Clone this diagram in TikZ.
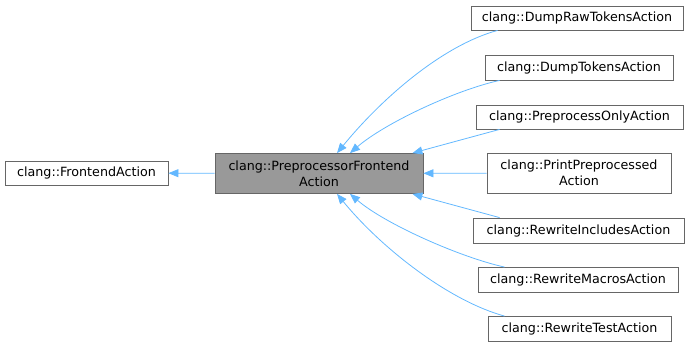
\documentclass[tikz,border=0pt]{standalone}
\usepackage{fontspec}
\setmainfont{DejaVu Sans}
\usepackage{tikz}
\usetikzlibrary{ arrows.meta, % For the filled inheritance tips
                 positioning,
               }
\definecolor{edgeblue}{HTML}{63B8FF}
\definecolor{boxline}{HTML}{666666}
\definecolor{basefill}{HTML}{999999}
\tikzstyle{edge} = [draw=edgeblue, line width=0.8pt, -{Triangle[length=10pt, width=8pt]}]
\tikzstyle{cls} = [rectangle, draw=boxline, line width=0.8pt, fill=white, inner sep=0pt,
                   font=\fontsize{12.7}{16}\selectfont, align=center]
\tikzstyle{base} = [cls, fill=basefill]

\begin{document}
\begin{tikzpicture}[x=1pt, y=-1pt]
  \useasboundingbox (0, 0) rectangle (693, 348);
  \node (fa) [cls, minimum width=163pt, minimum height=24pt] at (86.5, 173) {clang::FrontendAction};
  \node (pfa) [base, minimum width=208pt, minimum height=40pt] at (319, 173.5) {clang::PreprocessorFrontend\\Action};

  \node (drt) [cls, minimum width=212pt, minimum height=24pt] at (577, 18) {clang::DumpRawTokensAction};
  \node (dt) [cls, minimum width=188pt, minimum height=25pt] at (579, 67.5) {clang::DumpTokensAction};
  \node (po) [cls, minimum width=207pt, minimum height=24pt] at (579.5, 117) {clang::PreprocessOnlyAction};
  \node (pp) [cls, minimum width=184pt, minimum height=40pt] at (579, 173) {clang::PrintPreprocessed\\Action};
  \node (ri) [cls, minimum width=211pt, minimum height=25pt] at (578.5, 230.5) {clang::RewriteIncludesAction};
  \node (rm) [cls, minimum width=200pt, minimum height=25pt] at (578, 280) {clang::RewriteMacrosAction};
  \node (rt) [cls, minimum width=183pt, minimum height=25pt] at (579.5, 329) {clang::RewriteTestAction};

  \draw [edge] (pfa) -- (fa);
  % children above the base
  \draw [edge] ([xshift=27pt]drt.south west) .. controls +(-55, 15) and +(45, -55) .. ([xshift=18pt]pfa.north);
  \draw [edge] ([xshift=15pt]dt.south west) .. controls +(-45, 10) and +(35, -30) .. ([xshift=31pt]pfa.north);
  \draw [edge] ([xshift=24pt]po.south west) -- ([xshift=-11pt]pfa.north east);
  \draw [edge] (pp) -- (pfa);
  % children below the base
  \draw [edge] ([xshift=27pt]ri.north west) -- ([xshift=-11pt]pfa.south east);
  \draw [edge] ([xshift=27pt]rm.north west) .. controls +(-45, -10) and +(35, 30) .. ([xshift=31pt]pfa.south);
  \draw [edge] ([xshift=17pt]rt.north west) .. controls +(-55, -15) and +(45, 55) .. ([xshift=18pt]pfa.south);
\end{tikzpicture}
\end{document}
